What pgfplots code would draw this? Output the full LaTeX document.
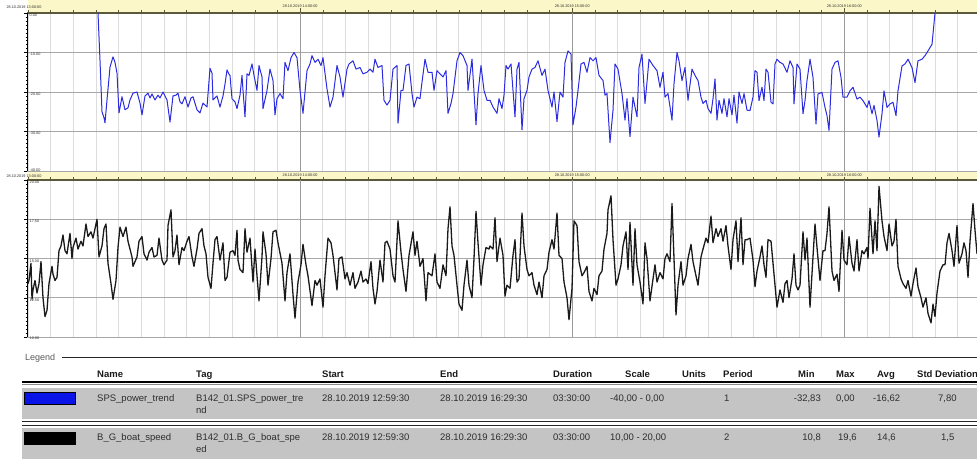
\documentclass[border=0pt]{standalone}
\usepackage{pgfplots}
\pgfplotsset{compat=1.18}
\usepackage{fontspec}
\setmainfont{Liberation Sans}
\definecolor{serblue}{HTML}{2B2BE0}
\definecolor{serblack}{HTML}{1A1A1A}
\definecolor{strip}{HTML}{FCF7C8}
\definecolor{stripline}{HTML}{5A5A3A}
\definecolor{gridmin}{HTML}{DCDCDC}
\definecolor{gridmaj}{HTML}{9A9A9A}
\definecolor{gridh}{HTML}{A8A8A8}
\definecolor{rowgray}{HTML}{C4C4C4}
\definecolor{txt}{HTML}{2E2E2E}
\definecolor{swblue}{HTML}{0A14E6}
\newcommand{\tinyf}{\fontsize{3.8}{4}\selectfont}
\newcommand{\tabf}{\fontsize{9.5}{11}\selectfont}
\pgfplotsset{panel/.style={
  scale only axis, anchor=south west, width=949.5pt,
  xmin=27.5, xmax=977,
  axis x line*=top, axis y line*=left,
  x axis line style={stripline, line width=1.3pt, -},
  y axis line style={black, line width=0.7pt, -},
  xtick={28,50.675,...,977}, xticklabels={},
  minor y tick num=9, yticklabels={},
  tick align=outside, major tick length=3pt, minor tick length=1.6pt,
  xtick style={stripline, line width=0.5pt},
  ytick style={black, line width=0.4pt},
  xmajorgrids, ymajorgrids,
  x grid style={gridmin, line width=0.7pt},
  y grid style={gridh, line width=0.9pt},
}}
\begin{document}
\begin{tikzpicture}[x=1pt,y=1pt]
\useasboundingbox (0,0) rectangle (977,459);
% header strips
\fill[strip] (28,446.5) rectangle (977,459);
\fill[strip] (28,279) rectangle (977,287);

\begin{axis}[panel, at={(27.5pt,288pt)}, height=158pt, ymin=-40, ymax=0, ytick={-40,-30,...,0}]
\foreach \h in {300.1,572.2,844.3}{\edef\tmp{\noexpand\draw[gridmaj, line width=0.8pt] (axis cs:\h,-40) -- (axis cs:\h,0);}\tmp}
\addplot[serblue, line width=1pt, line join=round] coordinates {
(98,0)(100,-12)(102,-25)(104,-26.5)(105,-27.8)(107,-22)(110,-13.7)(113,-11.1)(115,-12.5)(117,-15.2)(119,-25.3)(122,-21.2)(125,-24.5)(128,-24)(130,-22)(133,-20.3)(137,-20)(140,-22.8)(142,-25.8)(145,-21)(148,-20.3)(150,-21.5)(152,-20.5)(155,-22)(158,-20.8)(160,-21.5)(163,-20)(167,-22)(170,-27.6)(173,-21)(176,-20.8)(178,-20.3)(180,-22.5)(182,-23)(185,-21.2)(188,-23.8)(191,-21.5)(193,-21.2)(197,-24.5)(200,-25.3)(203,-22.8)(207,-23.8)(210,-14)(212,-15.2)(213,-22)(215,-21.5)(217,-21)(220,-23.8)(223,-21)(225,-18)(227,-14.4)(229,-15.5)
(230,-15.8)(232,-21.7)(235,-22.5)(237,-24.2)(240,-20.8)(242,-15.8)(243,-19.6)(245,-26.3)(247,-15.4)(249,-15.8)(252,-12.9)(254,-15.8)(257,-19.6)(259,-13.3)(262,-16.2)(263,-24.2)(267,-19.6)(270,-14.2)(273,-17.1)(275,-25.8)(277,-21.7)(280,-20.4)(283,-21.7)(285,-12.5)(288,-14.6)(291,-11.3)(294,-10)(297,-11.3)(300,-19.6)(303,-25.4)(307,-14.6)(310,-12.9)(312,-10.8)(315,-12.5)(318,-11.7)(321,-13.3)(323,-11.3)(327,-19.2)(330,-23.8)(333,-21.3)(337,-13.3)(340,-16.2)(343,-21.3)(347,-14.2)(349,-12.9)(353,-12.1)(356,-14.2)(360,-13.8)(363,-15.4)(367,-15)(370,-14.2)(373,-15)(375,-11.7)(378,-13.8)(382,-13.3)(384,-22.1)(387,-23.3)(390,-22.1)(393,-14.2)(397,-13.3)(398,-27.9)(401,-19.6)(403,-19.6)(406,-13.3)(409,-12.9)(412,-20.4)(414,-23.8)(417,-21.3)(420,-21.7)(422,-17.5)(425,-11.7)(428,-15)(432,-15)(434,-19.6)(437,-14.6)(440,-15.4)(443,-16.2)(446,-14.6)(448,-25.4)(451,-22.9)(453,-20.4)(457,-12.1)(460,-10)(463,-10.8)(467,-13.3)(468,-19.6)(472,-11.7)(474,-20)(476,-28.3)(478,-20.4)(481,-13.3)(484,-19.6)(487,-22.1)
(490,-22.1)(493,-23.8)(497,-25.4)(499,-21.7)(502,-24.2)(504,-20.8)(506,-13.3)(508,-14.2)(511,-12.9)(513,-19.6)(515,-26.3)(517,-14.2)(519,-12.5)(522,-29.6)(524,-21.7)(527,-19.6)(529,-16.2)(532,-14.2)(535,-13.8)(538,-12.1)(542,-15.8)(545,-14.2)(548,-19.6)(552,-23.8)(554,-20)(557,-27.5)(560,-20)(563,-21.3)(565,-12.5)(568,-9.6)(571,-10.4)(573,-28.3)(576,-23.8)(578,-19.6)(581,-12.9)(584,-12.5)(587,-15)(590,-11.3)(593,-12.1)(596,-11.3)(599,-15.8)(603,-17.1)(605,-20.8)(607,-20.4)(610,-32.8)(613,-24.6)(615,-12.9)(618,-14.2)(622,-20.4)(625,-27.1)(627,-21.7)(630,-31.3)(633,-21.3)(637,-26.3)(639,-13.8)(642,-10.4)(645,-22.9)(647,-17.5)(649,-11.7)(653,-13.3)(657,-14.6)(660,-18.8)(663,-15)(665,-21.3)(668,-20.4)(672,-27.1)(674,-17.9)(677,-10)(679,-12.1)(682,-17.1)(685,-13.8)(688,-22.1)(692,-14.2)(695,-15.8)(698,-17.1)(701,-21.3)(703,-22.9)(706,-22.1)(708,-24.2)(711,-25.4)(713,-21.7)(715,-16.7)(717,-27.1)(719,-22.1)(722,-25.4)(724,-21.7)(727,-26.3)(729,-21.7)(732,-25.8)(734,-20.8)(737,-27.9)(739,-20)(742,-22.9)(744,-20.4)(747,-24.6)
(750,-24.7)(753,-21.3)(755,-14.6)(757,-15)(759,-22.2)(762,-18.8)(764,-22.2)(766,-14.2)(768,-15)(771,-22.6)(773,-23)(775,-12.9)(777,-11.7)(780,-12.5)(783,-12.9)(787,-15)(790,-12.1)(793,-13.8)(794,-23)(797,-12.9)(800,-14.2)(803,-25.5)(805,-22.2)(807,-17.1)(810,-11.7)(813,-16.3)(816,-28.1)(818,-20.5)(822,-20.1)(825,-23.9)(827,-26)(829,-29.7)(832,-14.2)(835,-12.5)(838,-12.1)(841,-16.3)(843,-21.3)(847,-21.3)(850,-19.7)(853,-18.8)(857,-21.8)(860,-21.3)(863,-22.2)(867,-23.9)(869,-22.2)(872,-25.5)(874,-23.4)(877,-27.2)(879,-31.4)(882,-25.5)(884,-19.7)(887,-23.9)(890,-23)(893,-22.6)(896,-26)(898,-19.7)(902,-13.4)(905,-12.9)(908,-11.7)(912,-13.8)(915,-17.6)(918,-12.1)(922,-11.7)(925,-10.8)(928,-9.6)(932,-7.9)(935,0)
};
\end{axis}

\begin{axis}[panel, at={(27.5pt,122pt)}, height=157pt, ymin=10, ymax=20, ytick={10,12.5,...,20}]
\foreach \h in {300.1,572.2,844.3}{\edef\tmp{\noexpand\draw[gridmaj, line width=0.8pt] (axis cs:\h,10) -- (axis cs:\h,20);}\tmp}
\addplot[serblack, line width=1.3pt, line join=round] coordinates {
(28,13.4)(29,13.6)(31,14.7)(32,12.4)(33,13)(35,13.6)(37,12.8)(39,13.4)(41,14.8)(43,12.5)(45,11.3)(47,11.7)(49,13.4)(52,14.5)(53,14)(55,13.6)(57,13.8)(59,15.5)(61,15.8)(63,16.5)(65,15.5)(67,15.3)(70,16.6)(72,15)(73,15.7)(76,16.3)(78,15.6)(81,16.1)(83,15.8)(86,17.2)(88,16.4)(91,16.7)(93,16.3)(97,17.5)(99,15.1)(102,15.8)(104,16.9)(106,17.2)(108,14.7)(111,13.4)(113,12.4)(116,13.6)(118,15.7)(120,17)(123,16.4)(126,17)(128,16.1)(132,15.1)(133,14.5)(137,15.1)(139,16.1)(142,16.4)(144,15.3)(147,14.9)(149,15.4)(152,15.7)(154,15.1)(157,15.2)(159,16.3)(162,14.9)(164,14.6)(167,14.9)(168,17.1)(171,18.1)(173,15.1)(175,15.5)(177,16.5)(179,14.6)(182,15.7)(184,15.5)(187,16.1)(189,16.4)(192,15.1)(194,14.5)(197,15.6)(199,16.6)(202,16.9)(204,15.8)(206,15.3)(208,13.8)(211,13.1)(213,14.7)(215,16.2)(217,16.4)(220,14.9)(223,16)(225,13.6)(227,13.8)
(230,15.4)(233,15.5)(235,15.2)(237,16.8)(238,14.9)(240,14.3)(243,14.1)(245,16.9)(247,15.4)(250,16.3)(253,13.5)(255,15.6)(257,13.9)(259,12.3)(262,15.1)(263,16.7)(266,15.3)(268,13.3)(271,15)(273,16.7)(276,16.8)(278,16)(282,14.7)(285,12.3)(287,14.1)(290,15.3)(293,12.7)(295,11.2)(298,13.5)(301,14.6)(303,15.9)(306,14.6)(308,13.9)(312,12)(315,13.6)(317,13.3)(320,13.7)(323,11.9)(325,13.9)(328,16.3)(331,16)(333,15.2)(337,13)(339,15)(342,15.1)(345,13.7)(347,14.1)(350,13.3)(353,14.1)(355,13.1)(358,13.5)(361,14.2)(363,13.5)(366,13.7)(368,13.4)(371,14.8)(373,13.1)(375,12.1)(377,12.9)(380,14.9)(383,13.5)(385,16)(387,16.1)(390,15.6)(393,13.9)(395,13.5)(398,17.4)(401,15.4)(403,14.3)(406,12.9)(409,15.2)(413,16.7)(415,15.2)(417,16.1)(420,14.5)(423,15)(426,12.3)(428,14.1)(432,13.9)(435,15.3)(437,13.5)(440,13.1)(443,14.6)(446,13.9)(448,16.9)(450,18.3)(452,15.8)(454,15.2)(457,13.3)(459,12.1)(462,11.7)(464,13.3)(467,14.9)(469,13.3)(472,12.5)(474,15)(476,18)(478,16)(481,13.3)(483,14.6)(486,15.7)(489,15.6)
(490,15.8)(493,15.6)(495,17.6)(497,14.8)(500,16.3)(503,15.2)(505,12.6)(507,13.3)(510,13.1)(513,15.2)(515,16.2)(517,13.5)(519,13.7)(522,17.9)(524,15.8)(527,14.3)(529,13.9)(532,14.1)(534,13.3)(537,12.7)(539,13.5)(542,12.5)(544,13.9)(547,14.3)(549,15.4)(552,16.2)(554,15.6)(557,17.9)(559,15.2)(562,15)(564,13.5)(567,12.5)(569,11.1)(572,13.1)(574,17.4)(577,17.1)(579,14.8)(582,13.9)(584,14.1)(587,14.5)(589,12.9)(592,12.3)(594,13.1)(597,12.7)(599,13.9)(602,14.2)(604,15.6)(607,16.6)(608,18.1)(611,19)(613,16.2)(616,13.3)(618,13.7)(621,14.6)(623,15.8)(626,16.7)(628,14.3)(630,17.3)(633,13.3)(635,16.9)(637,14.6)(640,13.5)(643,12.1)(645,16)(647,15)(650,12.3)(653,13.7)(655,14.6)(657,13.5)(660,14.1)(663,13.7)(665,15)(667,15.3)(670,14.8)(672,18.5)(674,15)(676,11.4)(678,13.3)(681,14.8)(683,13.3)(686,13.9)(688,15)(691,15.9)(693,14.8)(696,13.9)(698,13.3)(701,15.1)(703,15.6)(706,16.3)(708,16)(711,17.7)(713,16)(716,16.9)(718,16.4)(721,16.9)(723,16.1)(726,17.1)(728,15.8)(731,14.3)(733,16.2)(736,17.4)(738,14.8)(741,17.6)(743,14.6)(745,16.2)(747,16.2)
(750,16.3)(753,14.9)(755,13.2)(757,14.2)(760,15.1)(762,15.8)(764,14.6)(766,13.8)(768,16.2)(771,16.1)(773,14.7)(775,13.3)(777,11.9)(780,13)(783,12.2)(785,13.4)(787,13.6)(789,12.5)(792,13.7)(794,15.3)(796,13.3)(798,13)(800,13.3)(803,16.7)(805,14.9)(807,16.3)(810,11.9)(813,15.1)(815,17.2)(817,15.7)(820,13.6)(823,15.5)(825,15.5)(827,16.6)(829,18.3)(832,14.2)(834,13.6)(837,14)(839,12.9)(842,16.8)(844,14.9)(847,14.6)(849,16.4)(852,14.7)(854,14.2)(857,16.2)(859,14.2)(862,15.5)(864,15.3)(867,15.7)(868,15)(870,18.2)(873,15.3)(875,17.4)(877,15.5)(879,19.6)(882,17.4)(884,16.4)(887,15.5)(889,17.2)(892,15.8)(894,16.1)(896,17.5)(898,14.5)(901,13.7)(903,13.4)(906,13.1)(908,13.6)(911,12.6)(913,13.4)(916,14.4)(918,13.2)(921,12.5)(923,11.9)(926,12.5)(928,11.5)(931,10.9)(933,12.1)(935,11.3)(937,12.8)(940,14.2)(943,14.6)(945,14.6)(947,16)(949,16.6)(952,15.5)(954,14.5)(957,17.1)(959,14.7)(962,15.3)(964,16)(966,15.5)(968,13.8)(970,16.1)(973,18.5)(975,16.8)(977,15.3)
};
\end{axis}

% hour ticks and time labels in strips
\foreach \h in {300.1,572.2,844.3}{
  \draw[stripline, line width=0.8pt] (\h,446.5) -- (\h,452);
  \draw[stripline, line width=0.8pt] (\h,279) -- (\h,284);
}
\node[txt, font=\tinyf] at (24,452) {28.10.2019 13:00:00};
\node[txt, font=\tinyf] at (24,283) {28.10.2019 13:00:00};
\foreach \h/\t in {300.1/14,572.2/15,844.3/16}{
  \node[txt, font=\tinyf, fill=strip, inner sep=0.5pt] at (\h,452.5) {28.10.2019 \t:00:00};
  \node[txt, font=\tinyf, fill=strip, inner sep=0.5pt] at (\h,283.5) {28.10.2019 \t:00:00};
}
% y labels
\foreach \y/\l in {443.5/0.00,404.5/-10.00,364.5/-20.00,325.5/-30.00,288.5/-40.00}{
  \node[txt, font=\tinyf, anchor=west, inner sep=0.5pt] at (29,\y) {\l};
}
\foreach \y/\l in {276.5/20.00,237.5/17.50,197.5/15.00,158.5/12.50,120.5/10.00}{
  \node[txt, font=\tinyf, anchor=west, inner sep=0.5pt] at (29,\y) {\l};
}

% legend table
\node[anchor=base west, font=\fontsize{9}{10}\selectfont, text=black!65, inner sep=0] at (25,99) {Legend};
\draw[black!85, line width=1.5pt] (62,101.5) -- (977,101.5);
\foreach \x/\l in {97/Name,196/Tag,322/Start,440/End,553/Duration,625/Scale,682/Units,723/Period,798/Min,836/Max,877/Avg,917/Std Deviation}{
  \node[anchor=base west, font=\tabf\bfseries, text=black!90, inner sep=0] at (\x,82) {\l};
}
\draw[black, line width=1.3pt] (22,77) -- (977,77);
\draw[black!45, line width=0.8pt] (22,74.5) -- (977,74.5);
\fill[rowgray] (22,40) rectangle (977,70.7);
\draw[black!85, line width=1pt] (22,37.5) -- (977,37.5);
\draw[black!85, line width=1pt] (22,34) -- (977,34);
\fill[rowgray] (22,0) rectangle (977,30.7);
\fill[swblue, draw=black, line width=1pt] (24.5,54.5) rectangle (75.5,66.2);
\fill[black, draw=black, line width=1pt] (24.5,14.5) rectangle (75.5,26.2);
\begin{scope}[every node/.style={anchor=base west, font=\tabf, text=txt, inner sep=0}]
\node at (97,58) {SPS\_power\_trend};
\node at (196,58) {B142\_01.SPS\_power\_tre};
\node at (196,46) {nd};
\node at (322,58) {28.10.2019 12:59:30};
\node at (440,58) {28.10.2019 16:29:30};
\node at (553,58) {03:30:00};
\node at (610,58) {-40,00 - 0,00};
\node at (724,58) {1};
\node[anchor=base east] at (821,58) {-32,83};
\node at (836,58) {0,00};
\node at (873,58) {-16,62};
\node at (938,58) {7,80};
\node at (97,19) {B\_G\_boat\_speed};
\node at (196,19) {B142\_01.B\_G\_boat\_spe};
\node at (196,7) {ed};
\node at (322,19) {28.10.2019 12:59:30};
\node at (440,19) {28.10.2019 16:29:30};
\node at (553,19) {03:30:00};
\node at (610,19) {10,00 - 20,00};
\node at (724,19) {2};
\node[anchor=base east] at (821,19) {10,8};
\node at (838,19) {19,6};
\node at (877,19) {14,6};
\node at (941,19) {1,5};
\end{scope}
\end{tikzpicture}
\end{document}
